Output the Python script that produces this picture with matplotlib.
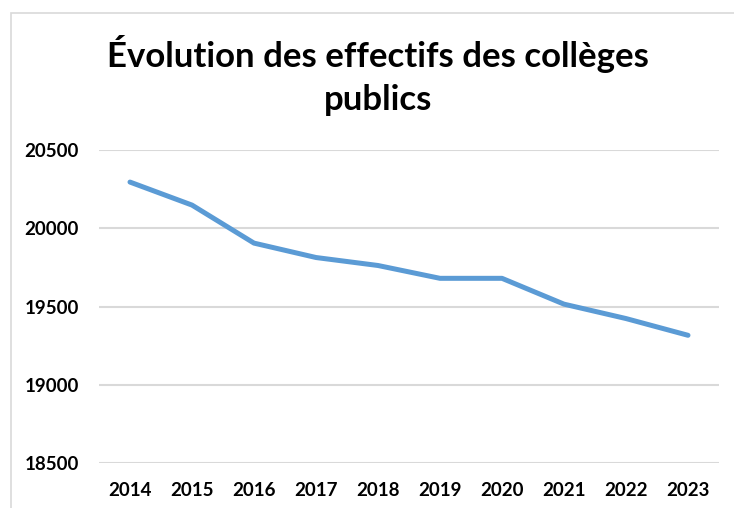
import matplotlib
matplotlib.use("Agg")
import matplotlib.pyplot as plt
from matplotlib.patches import Rectangle

years = ["2014", "2015", "2016", "2017", "2018", "2019", "2020", "2021", "2022", "2023"]
effectifs = [20295, 20148, 19905, 19813, 19762, 19680, 19680, 19515, 19423, 19316]
yticks = [18500, 19000, 19500, 20000, 20500]

FONT = ["Lato", "DejaVu Sans"]
BLUE = "#5B9BD5"
GRID = "#D9D9D9"

fig = plt.figure(figsize=(7.34, 5.08), dpi=100)
ax = fig.add_axes([99 / 734, 1 - 463 / 508, 620 / 734, 313 / 508])

# light frame around the chart area, like the spreadsheet export
fig.patches.append(Rectangle((11 / 734, -0.1), 1.2, (508 - 13) / 508 + 0.1,
                             transform=fig.transFigure, fill=False,
                             edgecolor=GRID, lw=1.2))

x = range(len(years))
ax.plot(x, effectifs, color=BLUE, lw=3.6, solid_capstyle="round",
        solid_joinstyle="round", zorder=3)

ax.set_xlim(-0.5, len(years) - 0.5)
ax.set_ylim(18500, 20500)
ax.set_xticks(list(x))
ax.set_xticklabels(years)
ax.set_yticks(yticks)
ax.set_yticklabels([str(v) for v in yticks])
for lab in ax.get_xticklabels() + ax.get_yticklabels():
    lab.set_fontfamily(FONT)
    lab.set_fontweight("bold")
    lab.set_fontsize(13.5)
ax.tick_params(axis="both", length=0)
ax.tick_params(axis="y", pad=14.5)
ax.tick_params(axis="x", pad=14)
ax.grid(axis="y", color=GRID, lw=1.5)
ax.set_axisbelow(True)
for s in ax.spines.values():
    s.set_visible(False)

fig.text(378 / 734, 1 - 67 / 508, "Évolution des effectifs des collèges",
         ha="center", va="baseline", fontsize=25, fontweight="bold", family=FONT)
fig.text(378 / 734, 1 - 110 / 508, "publics",
         ha="center", va="baseline", fontsize=25, fontweight="bold", family=FONT)

fig.savefig("out.png", dpi=100)
